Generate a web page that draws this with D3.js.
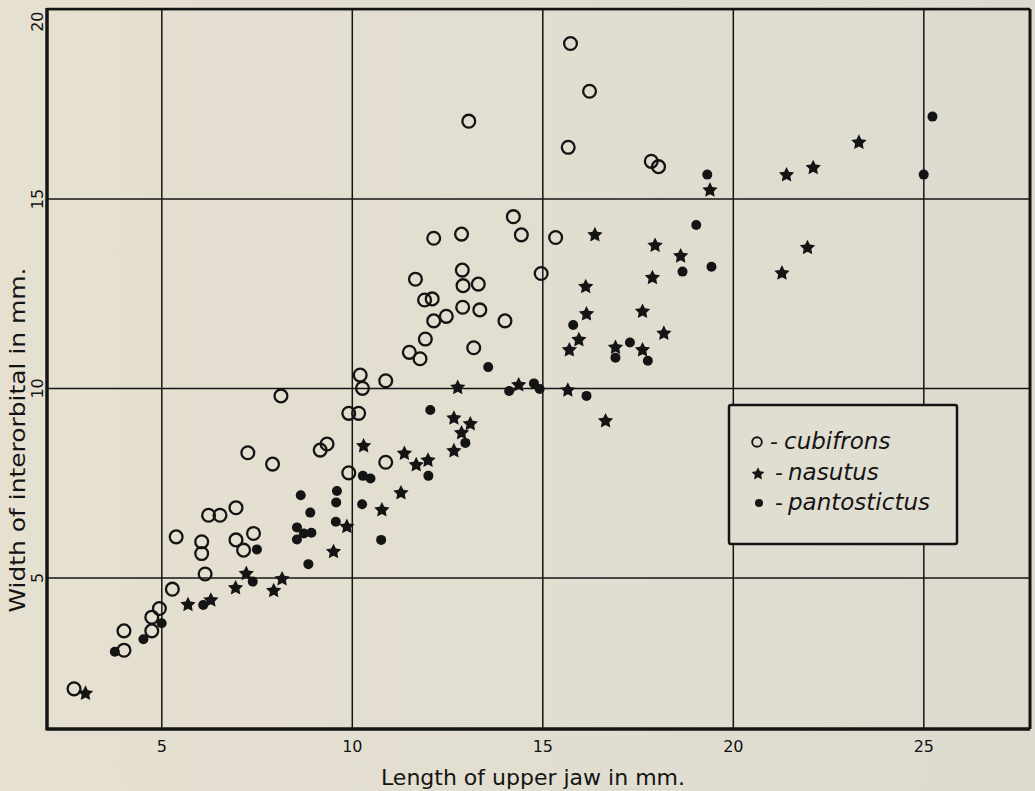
<!DOCTYPE html>
<html><head><meta charset="utf-8">
<script src="https://cdn.jsdelivr.net/npm/d3@7"></script>
<style>html,body{margin:0;padding:0;background:#e3dece;} svg{display:block}</style>
</head><body>
<svg id="chart" width="1035" height="791"></svg>
<script>
// ---- data (length of upper jaw, width of interorbital), mm ----
const cubifrons = [
  [15.74,19.09],[16.24,17.83],[13.07,17.04],[15.68,16.35],[17.86,15.98],[18.05,15.84],
  [14.24,14.52],[12.15,13.95],[12.88,14.06],[14.45,14.04],[15.35,13.97],
  [14.97,13.02],[12.90,13.11],[11.67,12.87],[12.92,12.70],[13.32,12.74],[11.91,12.32],
  [12.11,12.35],[12.91,12.13],[13.36,12.06],[12.15,11.77],[12.48,11.89],[14.02,11.77],
  [11.93,11.29],[13.20,11.06],[11.51,10.94],[11.79,10.77],[10.89,10.19],[10.89,8.04],
  [10.22,10.34],[10.28,9.99],[8.14,9.79],[9.92,9.33],[10.18,9.33],[9.35,8.52],[9.17,8.36],
  [7.27,8.29],[7.92,7.99],[9.92,7.76],[6.96,6.84],[6.54,6.64],[6.24,6.64],
  [5.39,6.07],[6.06,5.94],[6.06,5.63],[6.96,5.99],[7.16,5.72],[7.42,6.16],[6.15,5.09],
  [5.29,4.69],[4.95,4.18],[4.75,3.95],[4.75,3.59],[4.02,3.59],[4.02,3.08],[2.71,2.06]
];
const nasutus = [
  [19.40,15.24],[16.38,14.06],[17.96,13.78],[18.63,13.50],[23.31,16.50],[22.11,15.83],
  [21.41,15.64],[21.96,13.72],[21.29,13.05],
  [16.14,12.69],[17.89,12.93],[16.16,11.97],[17.63,12.04],[18.19,11.46],[15.96,11.29],
  [15.71,11.02],[16.92,11.09],[17.63,11.02],[12.78,10.03],[14.38,10.10],[15.67,9.96],
  [16.66,9.15],[12.68,9.22],[13.11,9.07],[12.88,8.83],[12.68,8.36],[11.38,8.29],
  [11.69,7.99],[12.00,8.11],[11.29,7.25],[10.79,6.80],[10.31,8.49],[9.87,6.36],
  [3.01,1.96],[5.70,4.30],[6.30,4.42],[6.95,4.74],[7.23,5.12],[7.95,4.67],[8.17,4.98],[9.52,5.70]
];
const pantostictus = [
  [19.33,15.63],[19.04,14.30],[19.44,13.20],[25.24,17.16],[25.01,15.63],[18.68,13.07],
  [15.81,11.66],[17.30,11.20],[16.92,10.80],[17.77,10.72],[13.58,10.55],[14.13,9.92],
  [14.78,10.12],[14.93,9.97],[16.16,9.79],[12.06,9.42],[12.98,8.55],[12.01,7.68],
  [10.29,7.68],[10.49,7.61],[9.61,7.28],[9.59,6.98],[8.66,7.17],[10.27,6.93],[8.91,6.71],
  [9.58,6.47],[8.56,6.32],[8.74,6.16],[8.94,6.18],[8.56,6.00],[10.77,5.99],[8.86,5.35],
  [3.78,3.04],[4.53,3.37],[5.01,3.79],[6.10,4.27],[7.40,4.89],[7.51,5.74]
];
const xTicks = [5, 10, 15, 20, 25];
const yTicks = [5, 10, 15, 20];
const legendNames = ["cubifrons", "nasutus", "pantostictus"];
const xTitle = "Length of upper jaw in mm.";
const yTitle = "Width of interorbital in mm.";

// ---- layout ----
const L = 47, R = 1030, T = 9, B = 729;
const ink = "#141414";
const svg = d3.select("#chart");
const font = "'DejaVu Sans', 'Liberation Sans', sans-serif";

const defs = svg.append("defs");
const grad = defs.append("linearGradient").attr("id","bg").attr("x1","0").attr("x2","1").attr("y1","0").attr("y2","0");
grad.append("stop").attr("offset","0").attr("stop-color","#e6e0d0");
grad.append("stop").attr("offset","1").attr("stop-color","#dddbd0");
svg.append("rect").attr("width",1035).attr("height",791).attr("fill","url(#bg)");

const x = d3.scaleLinear().domain([2, 27.8]).range([L, R]);
const y = d3.scaleLinear().domain([1, 20]).range([B, T]);

// grid + x axis
const gx = svg.append("g").attr("transform", `translate(0,${B})`)
  .call(d3.axisBottom(x).tickValues(xTicks).tickSize(-(B - T)).tickFormat(d3.format("d")));
gx.select(".domain").remove();
gx.selectAll("line").attr("stroke", ink).attr("stroke-width", 1.5);
gx.selectAll("text").attr("y", 12).attr("dy", "0.71em")
  .attr("fill", ink).style("font-family", font).style("font-size", "16px");

// grid + y axis
const gy = svg.append("g").attr("transform", `translate(${L},0)`)
  .call(d3.axisLeft(y).tickValues(yTicks).tickSize(-(R - L)).tickFormat(d3.format("d")));
gy.select(".domain").remove();
gy.selectAll("line").attr("stroke", ink).attr("stroke-width", 1.5);
gy.selectAll("text")
  .attr("transform", "rotate(-90)")
  .attr("x", d => d === yTicks[yTicks.length - 1] ? -2 : 0)
  .attr("y", -4).attr("dy", 0)
  .attr("text-anchor", d => d === yTicks[yTicks.length - 1] ? "end" : "middle")
  .attr("fill", ink).style("font-family", font).style("font-size", "16px");

// frame
svg.append("line").attr("x1", L).attr("x2", R).attr("y1", T).attr("y2", T).attr("stroke", ink).attr("stroke-width", 2.5);
svg.append("line").attr("x1", R).attr("x2", R).attr("y1", T).attr("y2", B).attr("stroke", ink).attr("stroke-width", 3);
svg.append("line").attr("x1", L).attr("x2", R).attr("y1", B).attr("y2", B).attr("stroke", ink).attr("stroke-width", 3.5);
svg.append("line").attr("x1", L).attr("x2", L).attr("y1", T - 1).attr("y2", B + 1.5).attr("stroke", ink).attr("stroke-width", 3.5);

// titles
svg.append("text").attr("x", 533).attr("y", 785).attr("text-anchor", "middle")
  .attr("fill", ink).style("font-family", font).style("font-size", "22px").text(xTitle);
svg.append("text").attr("transform", "translate(25,440) rotate(-90)").attr("text-anchor", "middle")
  .attr("textLength", 345).attr("lengthAdjust", "spacingAndGlyphs")
  .attr("fill", ink).style("font-family", font).style("font-size", "22px").text(yTitle);

// custom fat five-point star (symbol type for d3.symbol)
const fatStar = {
  draw(ctx, size) {
    const R = Math.sqrt(size) * 0.95, r = R * 0.5;
    for (let i = 0; i < 10; i++) {
      const a = -Math.PI / 2 + i * Math.PI / 5, rad = i % 2 ? r : R;
      const px = rad * Math.cos(a), py = rad * Math.sin(a);
      if (i === 0) ctx.moveTo(px, py); else ctx.lineTo(px, py);
    }
    ctx.closePath();
  }
};

// markers
const star = d3.symbol().type(fatStar).size(72);
svg.append("g").selectAll("circle").data(cubifrons).join("circle")
  .attr("cx", d => x(d[0])).attr("cy", d => y(d[1])).attr("r", 6.4)
  .attr("fill", "none").attr("stroke", ink).attr("stroke-width", 2.3);
svg.append("g").selectAll("path").data(nasutus).join("path")
  .attr("transform", d => `translate(${x(d[0])},${y(d[1]) + 0.8})`).attr("d", star).attr("fill", ink);
svg.append("g").selectAll("circle").data(pantostictus).join("circle")
  .attr("cx", d => x(d[0])).attr("cy", d => y(d[1])).attr("r", 5).attr("fill", ink);

// legend
const lg = svg.append("g");
lg.append("rect").attr("x", 729).attr("y", 405).attr("width", 228).attr("height", 139).attr("rx", 2)
  .attr("fill", "#e0ddd1").attr("stroke", ink).attr("stroke-width", 2.5);
const rows = [442, 473, 503];
lg.append("circle").attr("cx", 757).attr("cy", rows[0]).attr("r", 4.8).attr("fill", "none").attr("stroke", ink).attr("stroke-width", 1.9);
lg.append("path").attr("transform", `translate(758,${rows[1] + 1})`).attr("d", d3.symbol().type(fatStar).size(50)()).attr("fill", ink);
lg.append("circle").attr("cx", 759).attr("cy", rows[2]).attr("r", 4).attr("fill", ink);
legendNames.forEach((n, i) => {
  lg.append("text").attr("x", i === 0 ? 770 : 775).attr("y", rows[i] + 7)
    .attr("fill", ink).style("font-family", font).style("font-size", "22px")
    .text("-");
  lg.append("text").attr("x", i === 0 ? 784 : 788).attr("y", rows[i] + 7)
    .attr("fill", ink).style("font-family", font).style("font-size", "23px").style("font-style", "italic")
    .text(n);
});
</script>
</body></html>
